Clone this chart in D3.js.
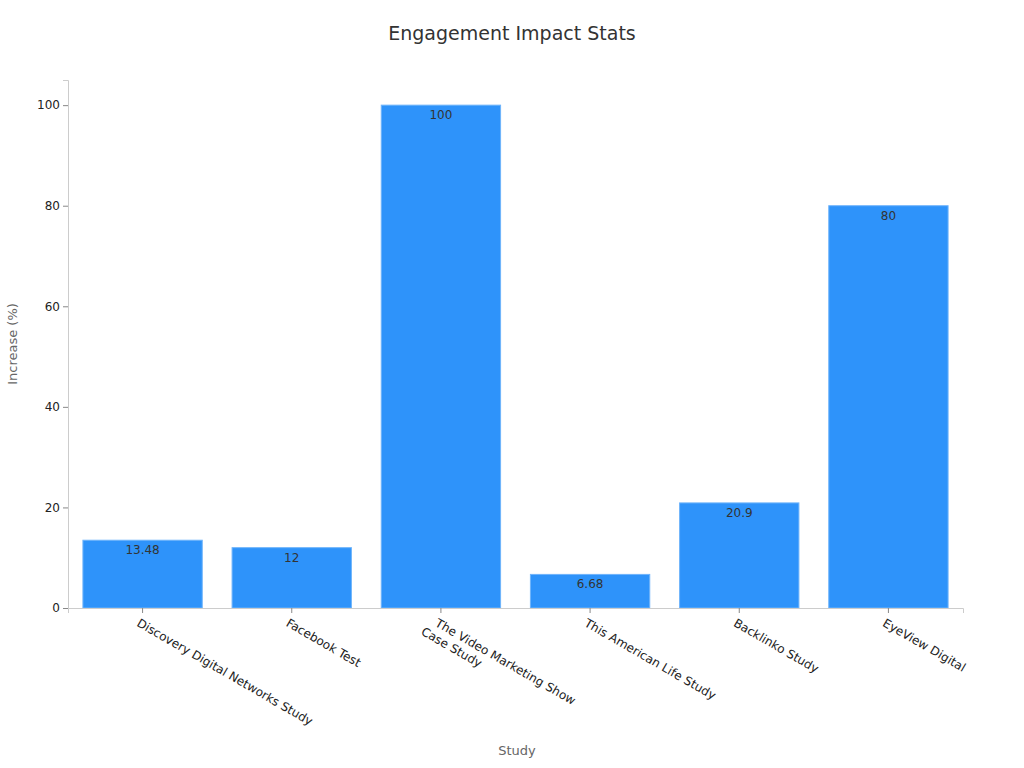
<!DOCTYPE html><html><head><meta charset="utf-8"><script src="https://cdn.jsdelivr.net/npm/d3@7"></script>
<style>body{margin:0;background:#fff}text{font-family:"DejaVu Sans",sans-serif}</style></head><body><svg id="c" width="1024" height="768"></svg>
<script>
const categories=["Discovery Digital Networks Study","Facebook Test","The Video Marketing Show|Case Study","This American Life Study","Backlinko Study","EyeView Digital"];
const values=[13.48,12,100,6.68,20.9,80];
const yTicks=[0,20,40,60,80,100];
const svg=d3.select("#c");
const m={l:68,r:963,t:80,b:608};
const x=d3.scaleBand().domain(categories).range([m.l,m.r]).paddingInner(0.2).paddingOuter(0.1);
const y=d3.scaleLinear().domain([0,105]).range([m.b,m.t]);
svg.append("text").attr("x",512).attr("y",40).attr("text-anchor","middle").attr("font-size",19).attr("fill","#333").text("Engagement Impact Stats");
svg.selectAll("rect.b").data(values).join("rect").attr("x",(d,i)=>x(categories[i])).attr("width",x.bandwidth()).attr("y",d=>y(d)).attr("height",d=>y(0)-y(d)).attr("fill","#2e93fa").attr("stroke","#6fb4fb").attr("stroke-width",1);
svg.selectAll("text.v").data(values).join("text").attr("x",(d,i)=>x(categories[i])+x.bandwidth()/2).attr("y",d=>y(d)+14).attr("text-anchor","middle").attr("font-size",12).attr("fill","#333").text(d=>d);
const ya=svg.append("g").attr("transform",`translate(${m.l},0)`).call(d3.axisLeft(y).tickValues(yTicks).tickSize(5));
const xa=svg.append("g").attr("transform",`translate(0,${m.b})`).call(d3.axisBottom(x).tickSize(5));
[ya,xa].forEach(a=>{a.selectAll("path,line").attr("stroke","#ccc");a.selectAll("text").attr("font-size",12).attr("fill","#222").style("font-family","DejaVu Sans")});
xa.selectAll(".tick line").attr("stroke","#888");ya.selectAll(".tick line").attr("stroke","#888");
xa.selectAll(".tick text").each(function(d){const t=d3.select(this);t.text(null).attr("text-anchor","start").attr("transform","translate(0,6) rotate(30)").attr("dy","0.9em").attr("x",0).attr("y",0);
 const parts=d.split("|");parts.forEach((p,i)=>t.append("tspan").attr("x",i? -0: 0).attr("dx",0).attr("dy",i?"1.2em":"0.9em").text(p));
 if(parts.length>1){t.attr("dy",null);t.selectAll("tspan").attr("x",(p,i)=>i?-parts[1].length*0:0);}
});
// second-line shift for multi-line labels (lines anchored at same start then shifted left in rotated frame)
xa.selectAll(".tick text").each(function(d){const t=d3.select(this);const ts=t.selectAll("tspan").nodes();if(ts.length>1){d3.select(ts[0]).attr("dy","1.1em");d3.select(ts[1]).attr("x",-8).attr("dy","1.2em");}else{d3.select(ts[0]).attr("dy","1.1em");}});
svg.append("text").attr("x",517).attr("y",755).attr("text-anchor","middle").attr("font-size",13).attr("fill","#666").text("Study");
svg.append("text").attr("transform","translate(17,344) rotate(-90)").attr("text-anchor","middle").attr("font-size",13).attr("fill","#666").text("Increase (%)");
</script></body></html>
